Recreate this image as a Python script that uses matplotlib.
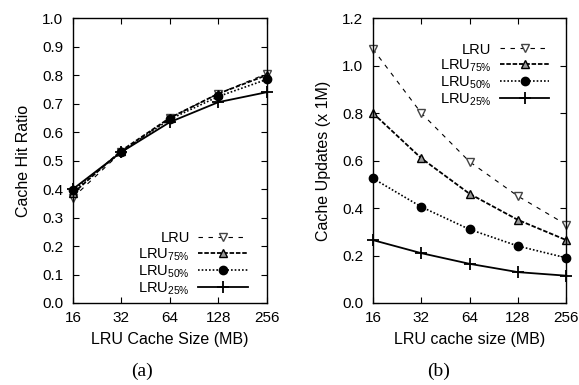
import numpy as np
import matplotlib
matplotlib.use('Agg')
import matplotlib.pyplot as plt

plt.rcParams['font.family'] = ['Liberation Sans', 'DejaVu Sans']
plt.rcParams['mathtext.fontset'] = 'custom'
plt.rcParams['mathtext.rm'] = 'Liberation Sans'
plt.rcParams['mathtext.it'] = 'Liberation Sans'
plt.rcParams['font.size'] = 11

# Данные
cache_sizes = [16, 32, 64, 128, 256]
labels = ['LRU', 'LRU$_{75\\%}$', 'LRU$_{50\\%}$', 'LRU$_{25\\%}$']

hit_lru = [0.37, 0.53, 0.65, 0.735, 0.805]
hit_lru75 = [0.385, 0.535, 0.65, 0.735, 0.80]
hit_lru50 = [0.395, 0.53, 0.645, 0.725, 0.785]
hit_lru25 = [0.40, 0.53, 0.635, 0.705, 0.74]

upd_lru = [1.07, 0.80, 0.595, 0.45, 0.33]
upd_lru75 = [0.80, 0.61, 0.46, 0.35, 0.265]
upd_lru50 = [0.525, 0.405, 0.31, 0.24, 0.19]
upd_lru25 = [0.265, 0.21, 0.165, 0.13, 0.115]

styles = [
    dict(color='k', linestyle=(0, (4, 5)), linewidth=0.8, marker='v', markersize=6,
         markerfacecolor='white', markeredgecolor='#444444'),
    dict(color='k', linestyle=(0, (2.5, 1)), linewidth=1.3, marker='^', markersize=6,
         markerfacecolor='#999999', markeredgecolor='k'),
    dict(color='k', linestyle=(0, (1, 1.2)), linewidth=1.2, marker='o', markersize=6,
         markerfacecolor='k'),
    dict(color='k', linestyle='-', linewidth=1.3, marker='+', markersize=8,
         markeredgewidth=1.3),
]

fig = plt.figure(figsize=(5.79, 3.85), dpi=100)
ax1 = fig.add_axes([0.126, 0.213, 0.335, 0.740])
ax2 = fig.add_axes([0.644, 0.213, 0.334, 0.740])


def setup(ax):
    ax.set_xscale('log', base=2)
    ax.set_xlim(16, 256)
    ax.set_xticks(cache_sizes)
    ax.set_xticklabels([str(c) for c in cache_sizes])
    ax.minorticks_off()
    ax.tick_params(direction='in', top=True, right=True, length=4, width=0.8,
                   labelsize=11)
    ax.tick_params(axis='x', pad=6)
    ax.tick_params(axis='y', pad=7)
    for s in ax.spines.values():
        s.set_linewidth(1.0)


leg_kw = dict(markerfirst=False, frameon=False, handlelength=3.4, labelspacing=0.05,
              borderaxespad=0.3, handletextpad=0.6, fontsize=10.5)

# (a) Доля попаданий
for ys, lab, st in zip([hit_lru, hit_lru75, hit_lru50, hit_lru25], labels, styles):
    ax1.plot(cache_sizes, ys, label=lab, clip_on=False, **st)
setup(ax1)
ax1.set_ylim(0, 1.0)
ax1.set_yticks(np.arange(0, 1.01, 0.1))
ax1.set_yticklabels(['%.1f' % v for v in np.arange(0, 1.01, 0.1)])
ax1.set_xlabel('LRU Cache Size (MB)', fontsize=11.5, labelpad=5)
ax1.set_ylabel('Cache Hit Ratio', fontsize=11.5, labelpad=8)
ax1.legend(loc='lower right', bbox_to_anchor=(0.955, -0.014), **leg_kw)

# (b) Количество обновлений
for ys, lab, st in zip([upd_lru, upd_lru75, upd_lru50, upd_lru25], labels, styles):
    ax2.plot(cache_sizes, ys, label=lab, clip_on=False, **st)
setup(ax2)
ax2.set_ylim(0, 1.2)
ax2.set_yticks(np.arange(0, 1.21, 0.2))
ax2.set_yticklabels(['%.1f' % v for v in np.arange(0, 1.21, 0.2)])
ax2.set_xlabel('LRU cache size (MB)', fontsize=11.5, labelpad=5)
ax2.set_ylabel('Cache Updates (x 1M)', fontsize=11.5, labelpad=8)
ax2.legend(loc='upper right', bbox_to_anchor=(0.966, 0.95), **leg_kw)

fig.text(0.245, 0.035, '(a)', family='Liberation Serif', fontsize=14, ha='center', va='center')
fig.text(0.757, 0.035, '(b)', family='Liberation Serif', fontsize=14, ha='center', va='center')

fig.savefig('out.png', dpi=100)
